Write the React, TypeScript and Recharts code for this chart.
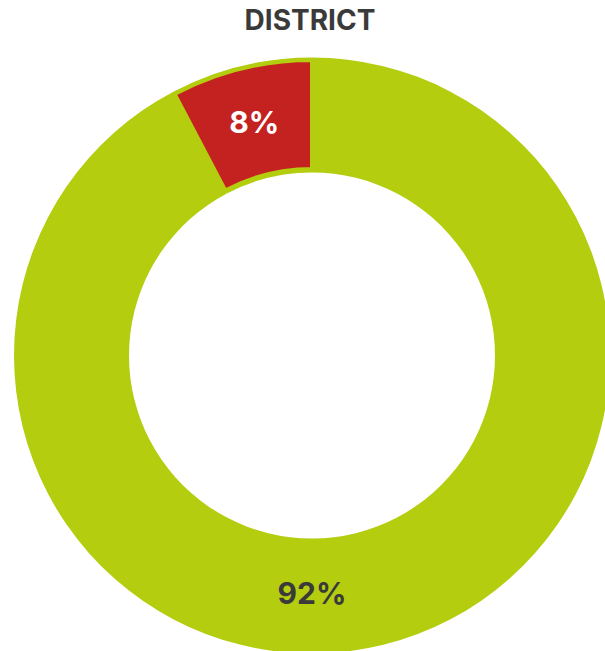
import { PieChart, Pie, Cell } from 'recharts';

const title = 'DISTRICT';
const categories = ['Other', 'District'];
const values = [92.3, 7.7];
const valueLabels = ['92%', '8%'];
const colors = ['#b4cd0f', '#c42221'];
const labelColors = ['#3a3a3a', '#ffffff'];

const data = categories.map((name, i) => ({ name, value: values[i] }));

const RAD = Math.PI / 180;
const FONT = "Inter, 'Open Sans', sans-serif";

// big slice label sits at the bottom of the ring, small one at its middle
const renderLabel = (props: any) => {
  const { cx, cy, midAngle, innerRadius, outerRadius, percent, index } = props;
  const angle = percent > 0.5 ? -90 : midAngle;
  const r = (innerRadius + outerRadius) / 2 - (percent > 0.5 ? 4 : 0);
  const x = cx + r * Math.cos(-angle * RAD);
  const y = cy + r * Math.sin(-angle * RAD);
  return (
    <text
      x={x}
      y={y}
      fill={labelColors[index]}
      textAnchor="middle"
      dominantBaseline="central"
      fontFamily={FONT}
      fontWeight={700}
      fontSize={index === 0 ? 30 : 30}
    >
      {valueLabels[index]}
    </text>
  );
};

export default function App() {
  return (
    <div style={{ position: 'absolute', left: 0, top: 0, width: 605, height: 651, background: '#fff', overflow: 'hidden' }}>
      <div
        style={{
          position: 'absolute',
          left: 0,
          top: 3,
          width: 620,
          textAlign: 'center',
          fontFamily: FONT,
          fontWeight: 700,
          fontSize: 28,
          color: '#3a3a3a',
        }}
      >
        {title}
      </div>
      <PieChart width={605} height={651} margin={{ top: 0, right: 0, bottom: 0, left: 0 }}>
        <Pie
          data={data}
          dataKey="value"
          cx={312}
          cy={355.5}
          innerRadius={183}
          outerRadius={298}
          startAngle={90}
          endAngle={-270}
          stroke="none"
          isAnimationActive={false}
        >
          {data.map((d) => (
            <Cell key={d.name} fill={colors[0]} />
          ))}
        </Pie>
        <Pie
          data={data}
          dataKey="value"
          cx={312}
          cy={355.5}
          innerRadius={186.5}
          outerRadius={295.5}
          startAngle={90}
          endAngle={-270}
          label={renderLabel}
          labelLine={false}
          isAnimationActive={false}
        >
          {data.map((d, i) => (
            <Cell
              key={d.name}
              fill={i === 0 ? 'transparent' : colors[i]}
              stroke={i === 0 ? 'none' : colors[0]}
              strokeWidth={4}
            />
          ))}
        </Pie>
      </PieChart>
    </div>
  );
}
